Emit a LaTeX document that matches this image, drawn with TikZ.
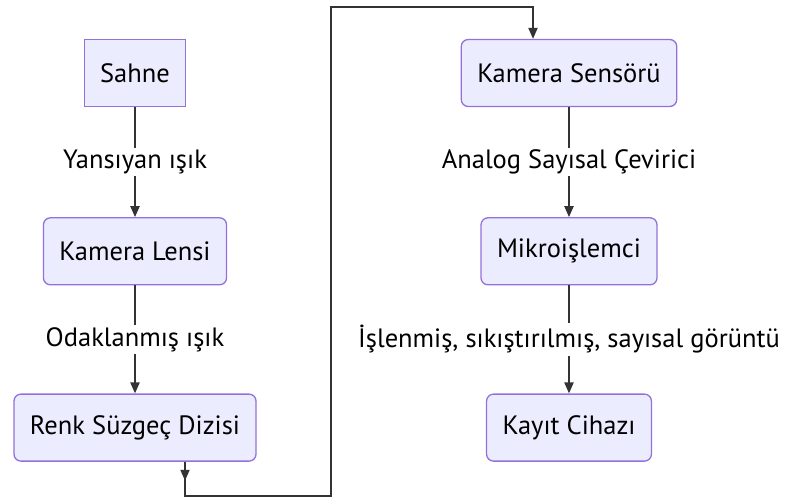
\documentclass[tikz,border=0pt]{standalone}
\usepackage{fontspec}
\setmainfont{PT Sans}
\usepackage{tikz}
\usetikzlibrary{positioning, arrows.meta, decorations.markings}

\definecolor{boxfill}{HTML}{ECECFF}
\definecolor{boxline}{HTML}{9370DB}
\definecolor{edgeline}{HTML}{333333}

\begin{document}
\begin{tikzpicture}[
    x=1pt, y=-1pt,
    font=\fontsize{26.5}{30}\selectfont,
    squarenode/.style={rectangle, draw=boxline, fill=boxfill, line width=1.3pt, minimum height=67pt, inner xsep=16pt},
    roundnode/.style={squarenode, rounded corners=7pt},
    edgelabel/.style={fill=white, inner sep=2pt, text=black},
    link/.style={draw=edgeline, line width=2pt, -{Triangle[length=11pt, width=9pt]}}
]
\useasboundingbox (0,0) rectangle (792,499);

% left column
\node[squarenode](sahne) at (135,73){Sahne};
\node[roundnode](lens)[below = 110pt of sahne]{Kamera Lensi};
\node[roundnode](filter)[below = 108pt of lens]{Renk Süzgeç Dizisi};

% right column
\node[roundnode](sensor) at (569,73){Kamera Sensörü};
\node[roundnode](cpu)[below = 110pt of sensor]{Mikroişlemci};
\node[roundnode](store)[below = 108pt of cpu]{Kayıt Cihazı};

\draw[link](sahne) -- node[edgelabel]{Yansıyan ışık} (lens);
\draw[link](lens) -- node[edgelabel]{Odaklanmış ışık} (filter);
\draw[link](sensor) -- node[edgelabel]{Analog Sayısal Çevirici} (cpu);
\draw[link](cpu) -- node[edgelabel]{İşlenmiş, sıkıştırılmış, sayısal görüntü} (store);

% the long way round
\coordinate (turnA) at (185,496);
\coordinate (turnB) at (331,7);
\coordinate (turnC) at (533,7);
\draw[link, postaction={decorate}, decoration={markings, mark=at position 19pt with {\arrow{Triangle[length=11pt, width=9pt]}}}]
    (filter.south -| turnA) |- (turnB |- turnA) -- (turnB) -- (turnC) -- (sensor.north -| turnC);
\end{tikzpicture}
\end{document}
